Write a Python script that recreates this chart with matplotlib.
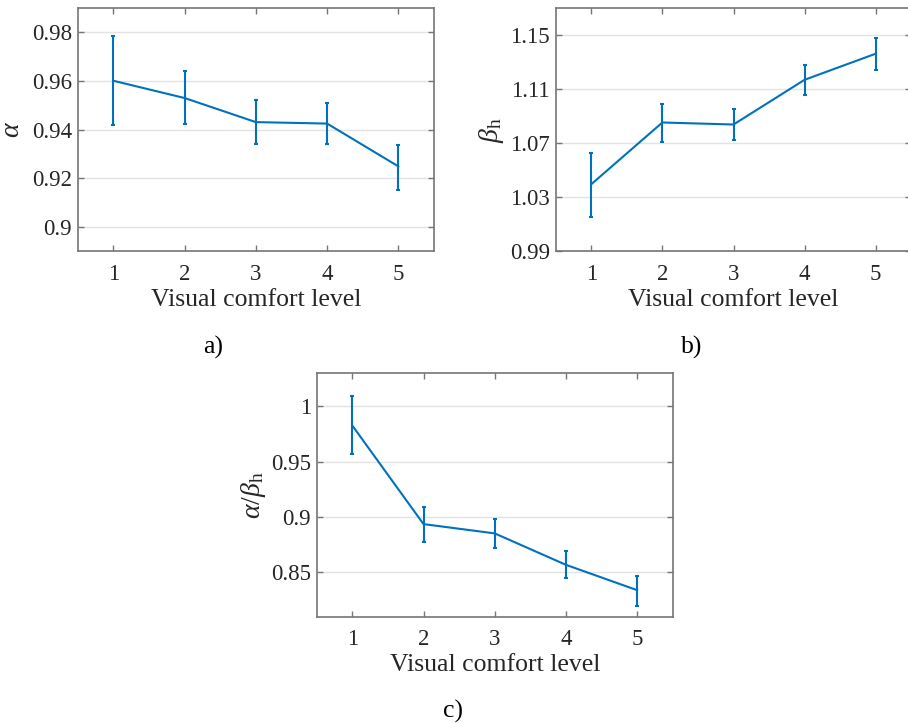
import numpy as np
import matplotlib.pyplot as plt

plt.rcParams['font.family'] = 'Liberation Serif'
plt.rcParams['mathtext.fontset'] = 'custom'
plt.rcParams['mathtext.rm'] = 'Liberation Serif'
plt.rcParams['mathtext.it'] = 'Liberation Serif:italic'

# Datos
niveles = [1, 2, 3, 4, 5]

alpha = [0.9601, 0.9530, 0.9431, 0.9425, 0.9249]
alpha_sup = [0.9786, 0.9640, 0.9522, 0.9509, 0.9338]
alpha_inf = [0.9418, 0.9424, 0.9340, 0.9342, 0.9153]

beta = [1.0396, 1.0853, 1.0838, 1.1169, 1.1362]
beta_sup = [1.0626, 1.0991, 1.0956, 1.1278, 1.1480]
beta_inf = [1.0156, 1.0712, 1.0722, 1.1058, 1.1241]

ratio = [0.9828, 0.8937, 0.8853, 0.8569, 0.8340]
ratio_sup = [1.0099, 0.9093, 0.8985, 0.8693, 0.8471]
ratio_inf = [0.9569, 0.8777, 0.8720, 0.8446, 0.8199]

W, H = 908, 723
fig = plt.figure(figsize=(W / 100, H / 100), dpi=100)

azul = '#0072BD'
gris = '#767676'


def panel(rect, y, sup, inf, ylim, yticks, yticklabels, ylabel, ylabel_pad):
    ax = fig.add_axes(rect)
    y = np.array(y)
    err = [y - np.array(inf), np.array(sup) - y]
    ax.errorbar(niveles, y, yerr=err, color=azul, lw=1.5, elinewidth=1.5,
                capsize=1.2, capthick=1.5)
    ax.set_xlim(0.5, 5.5)
    ax.set_ylim(*ylim)
    ax.set_xticks(niveles)
    ax.set_yticks(yticks)
    ax.set_yticklabels(yticklabels)
    ax.yaxis.grid(True, color='#e3e3e3', lw=1)
    ax.set_axisbelow(True)
    ax.tick_params(direction='in', length=4, width=1, color=gris,
                   top=True, right=True, labelsize=16.5, labelcolor='#262626')
    ax.tick_params(axis='x', pad=9)
    ax.tick_params(axis='y', pad=4)
    for s in ax.spines.values():
        s.set_color(gris)
        s.set_linewidth(1.2)
    ax.set_xlabel('Visual comfort level', fontsize=18.5, color='#262626',
                  labelpad=3)
    ax.set_ylabel(ylabel, fontsize=20, color='#262626', labelpad=ylabel_pad)
    return ax


panel([77.7 / W, 1 - 251.3 / H, 356.3 / W, 243.3 / H],
      alpha, alpha_sup, alpha_inf, (0.89, 0.99),
      [0.9, 0.92, 0.94, 0.96, 0.98], ['0.9', '0.92', '0.94', '0.96', '0.98'],
      r'$\alpha$', 5)

panel([555.7 / W, 1 - 251.3 / H, 355.6 / W, 243.3 / H],
      beta, beta_sup, beta_inf, (0.99, 1.17),
      [0.99, 1.03, 1.07, 1.11, 1.15], ['0.99', '1.03', '1.07', '1.11', '1.15'],
      r'$\beta_{\mathrm{h}}$', 3)

panel([316.7 / W, 1 - 616.7 / H, 356 / W, 243.4 / H],
      ratio, ratio_sup, ratio_inf, (0.81, 1.03),
      [0.85, 0.9, 0.95, 1.0], ['0.85', '0.9', '0.95', '1'],
      r'$\alpha/\beta_{\mathrm{h}}$', 2)

fig.text(213 / W, 1 - 347 / H, 'a)', fontsize=18.5, ha='center', va='center')
fig.text(692 / W, 1 - 347 / H, 'b)', fontsize=18.5, ha='center', va='center')
fig.text(453 / W, 1 - 711 / H, 'c)', fontsize=18.5, ha='center', va='center')

fig.savefig('out.png', dpi=100)
